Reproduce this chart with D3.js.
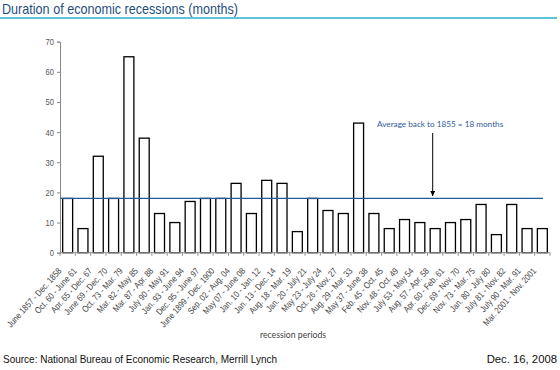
<!DOCTYPE html>
<html><head><meta charset="utf-8">
<script src="https://cdn.jsdelivr.net/npm/d3@7"></script>
<style>body{margin:0;background:#fff}</style>
</head><body>
<svg id="c" width="560" height="370"></svg>
<script>
const periods = ["June 1857 - Dec. 1858","Oct. 60 - June 61","Apr. 65 - Dec. 67","June 69 - Dec. 70","Oct. 73 - Mar. 79","Mar. 82 - May 85","Mar. 87 - Apr. 88","July 90 - May 91","Jan. 93 - June 94","Dec. 95 - June 97","June 1899 - Dec. 1900","Sep. 02 - Aug. 04","May 07 - June 08","Jan. 10 - Jan. 12","Jan. 13 - Dec. 14","Aug. 18 - Mar. 19","Jan. 20 - July 21","May 23 - July 24","Oct. 26 - Nov. 27","Aug. 29 - Mar. 33","May 37 - June 38","Feb. 45 - Oct. 45","Nov. 48 - Oct. 49","July 53 - May 54","Aug. 57 - Apr. 58","Apr. 60 - Feb. 61","Dec. 69 - Nov. 70","Nov. 73 - Mar. 75","Jan. 80 - July 80","July 81 - Nov. 82","July 90 - Mar. 91","Mar. 2001 - Nov. 2001"];
const months = [18,8,32,18,65,38,13,10,17,18,18,23,13,24,23,7,18,14,13,43,13,8,11,10,8,10,11,16,6,16,8,8];
const average = 18;
const yTicks = [0,10,20,30,40,50,60,70];
const title = "Duration of economic recessions (months)";
const avgLabel = "Average back to 1855 = 18 months";
const xTitle = "recession periods";
const source = "Source: National Bureau of Economic Research, Merrill Lynch";
const dateLabel = "Dec. 16, 2008";

const svg = d3.select("#c");
const arial = "'Liberation Sans',Arial,sans-serif";
const NS = 0.84; // narrow-font horizontal squeeze
const x = d3.scaleBand().domain(periods).range([60,550]).paddingInner(0.35).paddingOuter(0.175);
const y = d3.scaleLinear().domain([0,70]).range([252.7,41.7]);

// title
svg.append("text").attr("x",2).attr("y",13.5).text(title)
  .attr("font-family",arial).attr("font-size",15).attr("fill","#1f4f7f")
  .attr("textLength",236).attr("lengthAdjust","spacingAndGlyphs");
svg.append("line").attr("x1",0).attr("x2",557).attr("y1",18).attr("y2",18)
  .attr("stroke","#25b3c8").attr("stroke-width",1.6);

// y axis
const yAxis = svg.append("g").attr("transform","translate(60,0)")
  .call(d3.axisLeft(y).tickValues(yTicks).tickSize(3).tickPadding(0));
yAxis.select(".domain").attr("stroke","#888");
yAxis.selectAll(".tick line").attr("stroke","#888");
yAxis.selectAll(".tick text").attr("x",null)
  .attr("transform",`translate(-6,0) scale(${NS},1)`)
  .attr("font-family",arial).attr("font-size",9).attr("fill","#555");

// bars
svg.append("g").selectAll("rect").data(periods).join("rect")
  .attr("x",d=>x(d)).attr("width",x.bandwidth())
  .attr("y",(d,i)=>y(months[i])).attr("height",(d,i)=>y(0)-y(months[i]))
  .attr("fill","#fff").attr("stroke","#000").attr("stroke-width",1.3);

// x axis
const xg = svg.append("g").attr("transform",`translate(0,${y(0)})`);
xg.append("line").attr("x1",60).attr("x2",550).attr("stroke","#888");
const bounds = periods.map(p=>x(p)-x.step()*x.paddingInner()/2).concat([550]);
xg.selectAll("line.t").data(bounds).join("line").attr("class","t")
  .attr("x1",d=>d).attr("x2",d=>d).attr("y1",0).attr("y2",3).attr("stroke","#888");
xg.selectAll("text").data(periods).join("text")
  .attr("transform",d=>`translate(${x(d)+x.bandwidth()/2-8},16.5) rotate(-48) scale(${NS},1)`)
  .attr("text-anchor","end").attr("dy","0.35em")
  .attr("font-family",arial).attr("font-size",9).attr("fill","#444").text(d=>d);

// average line
svg.append("line").attr("x1",60).attr("x2",543).attr("y1",y(average)).attr("y2",y(average))
  .attr("stroke","#1f5d9c").attr("stroke-width",1.3);
svg.append("text").attr("x",377).attr("y",127).text(avgLabel)
  .attr("font-family","Lato,sans-serif").attr("font-size",8.2).attr("fill","#2e5c9a");
svg.append("defs").append("marker").attr("id","ah").attr("viewBox","0 0 10 10").attr("refX",10).attr("refY",5)
  .attr("markerWidth",5).attr("markerHeight",5).attr("orient","auto")
  .append("path").attr("d","M0,0L10,5L0,10z").attr("fill","#000");
svg.append("line").attr("x1",432.7).attr("x2",432.7).attr("y1",133).attr("y2",y(average)-2.5)
  .attr("stroke","#000").attr("stroke-width",1).attr("marker-end","url(#ah)");

svg.append("text").attr("x",293).attr("y",338).attr("text-anchor","middle").text(xTitle)
  .attr("font-family","Lato,sans-serif").attr("font-size",8.7).attr("fill","#444");
svg.append("text").attr("x",3).attr("y",362.5).text(source)
  .attr("font-family",arial).attr("font-size",11).attr("fill","#111")
  .attr("textLength",274).attr("lengthAdjust","spacingAndGlyphs");
svg.append("text").attr("x",557).attr("y",362.5).attr("text-anchor","end").text(dateLabel)
  .attr("font-family",arial).attr("font-size",11.3).attr("fill","#111");
</script>
</body></html>
